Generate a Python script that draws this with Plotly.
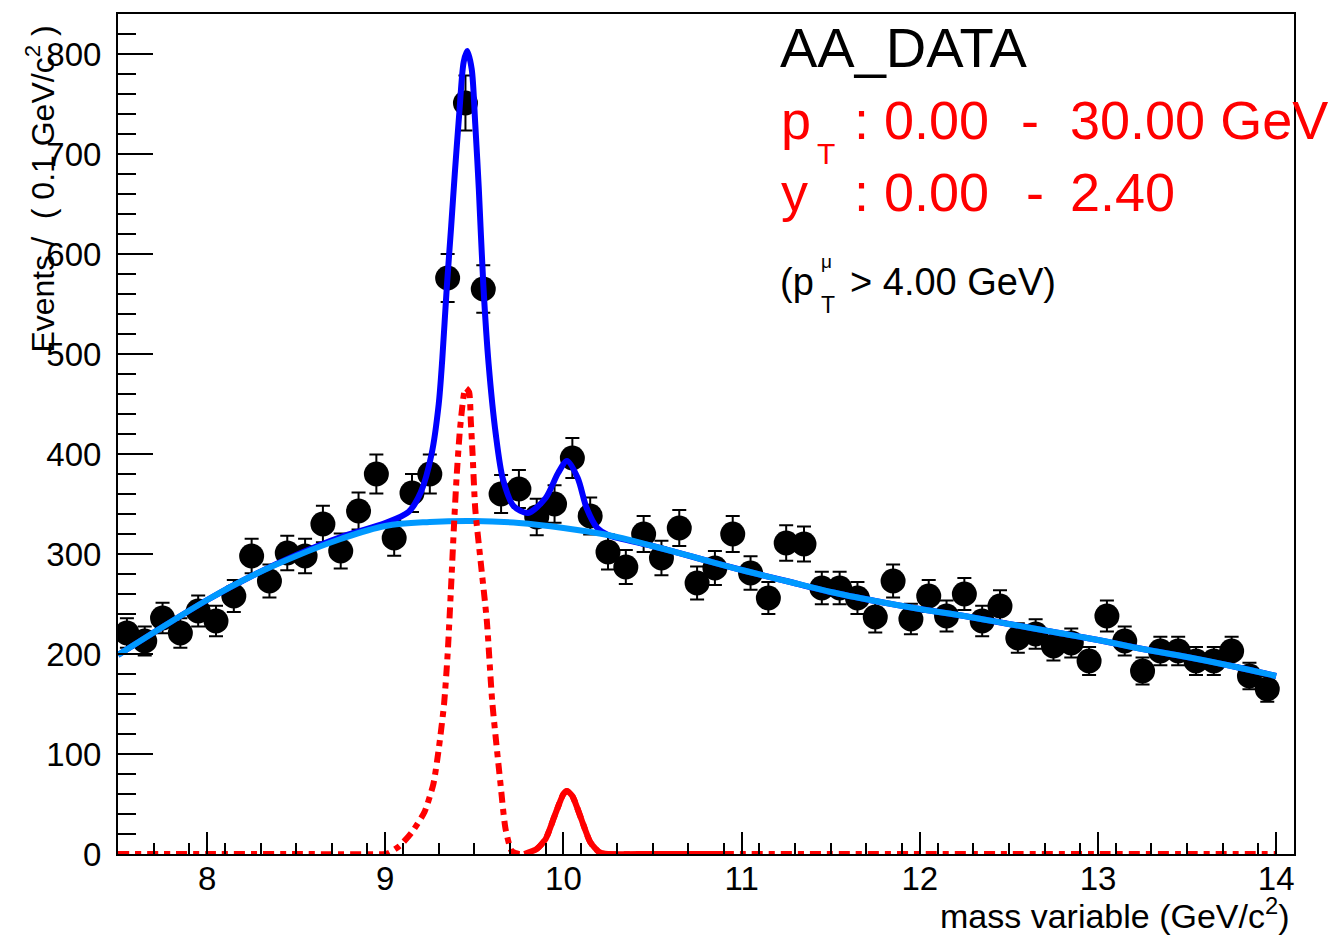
import numpy as np
import plotly.graph_objects as go

# ---- binned data: 0.1 GeV bins from 7.5 to 14.0 ----
mass_bins = [round(7.55 + 0.1 * i, 2) for i in range(65)]
events = [221, 213, 236, 221, 243, 233, 258, 298, 273, 301,
          298, 330, 303, 343, 380, 316, 361, 380, 576, 751,
          565, 360, 365, 337, 350, 396, 338, 302, 287, 320,
          296, 326, 271, 286, 320, 281, 256, 311, 310, 266,
          266, 256, 237, 273, 235, 258, 238, 260, 233, 248,
          216, 220, 208, 211, 193, 238, 213, 183, 203, 203,
          193, 193, 203, 178, 165]
event_errors = [float(np.sqrt(v)) for v in events]

# ---- background shape ----
bkg_mass = [7.5, 7.75, 8.0, 8.25, 8.5, 8.75, 9.0, 9.25, 9.5, 9.75, 10.0,
            10.25, 10.5, 10.75, 11.0, 11.25, 11.5, 11.75, 12.0, 12.25,
            12.5, 12.75, 13.0, 13.25, 13.5, 13.75, 14.0]
bkg_vals = [199, 227, 254, 278, 298, 315, 328, 332, 333, 331, 326,
            319, 308, 296, 284, 273, 262, 253, 245, 238,
            230, 222, 214, 205, 197, 188, 178]

# ---- total fit (signal + background) ----
tot_mass = [7.5, 7.75, 8.0, 8.25, 8.5, 8.75, 9.0, 9.13, 9.2, 9.26, 9.3,
            9.32, 9.345, 9.37, 9.39, 9.415, 9.44, 9.46, 9.485, 9.505,
            9.525, 9.55, 9.58, 9.62, 9.66, 9.72, 9.8, 9.9, 9.97, 10.02,
            10.08, 10.13, 10.19, 10.25, 10.5, 10.75, 11.0, 11.25, 11.5,
            11.75, 12.0, 12.25, 12.5, 12.75, 13.0, 13.25, 13.5, 13.75, 14.0]
tot_vals = [199, 227, 254, 278, 299, 317, 331, 342, 362, 400, 450,
            495, 566, 628, 680, 740, 792, 803, 785, 730,
            665, 570, 490, 420, 375, 348, 341, 356, 381, 393,
            376, 346, 326, 319, 308, 296, 284, 273, 262,
            253, 245, 238, 230, 222, 214, 205, 197, 188, 178]

# ---- signal component (dashed) ----
sig_mass = [7.5, 8.0, 8.5, 9.0, 9.02, 9.08, 9.15, 9.22, 9.27, 9.3, 9.33,
            9.35, 9.37, 9.385, 9.4, 9.42, 9.45, 9.47, 9.48, 9.49, 9.505,
            9.535, 9.57, 9.6, 9.645, 9.675, 9.71, 9.75, 9.8, 9.85, 9.9,
            9.95, 10.0, 10.02, 10.05, 10.1, 10.15, 10.2, 10.25, 10.5,
            11.0, 11.5, 12.0, 12.5, 13.0, 13.5, 14.0]
sig_vals = [0, 0, 0, 0, 1, 8, 22, 42, 70, 105, 150,
            200, 270, 326, 376, 426, 466, 462, 433, 400, 345,
            293, 233, 153, 73, 25, 3, 0, 0, 5, 15,
            38, 60, 63, 58, 35, 12, 2, 0, 0,
            0, 0, 0, 0, 0, 0, 0]

# ---- second-peak component, drawn over its own fit window ----
peak2_mass = [9.78, 9.85, 9.9, 9.95, 10.0, 10.02, 10.05, 10.1, 10.15,
              10.2, 10.25, 10.5, 10.93]
peak2_vals = [0, 5, 15, 38, 60, 63, 58, 35, 12, 2, 0, 0, 0]

x_ticks = [8, 9, 10, 11, 12, 13, 14]
y_ticks = [0, 100, 200, 300, 400, 500, 600, 700, 800]

W, H = 1335, 936
L, R, T, B = 118, 41, 12, 82
PW, PH = W - L - R, H - T - B
FONT = "Liberation Sans, Arial, Helvetica, sans-serif"


def px(xp):
    return (xp - L) / PW


def py(yp):
    return (H - B - yp) / PH


fig = go.Figure()

fig.add_trace(go.Scatter(
    x=mass_bins, y=events, mode="markers",
    marker=dict(symbol="circle", size=25, color="black"),
    error_y=dict(type="data", array=event_errors, color="black",
                 thickness=2, width=7),
    showlegend=False, hoverinfo="x+y"))

fig.add_trace(go.Scatter(
    x=tot_mass, y=tot_vals, mode="lines",
    line=dict(color="#0000ff", width=6, shape="spline", smoothing=0.8),
    showlegend=False))

fig.add_trace(go.Scatter(
    x=bkg_mass, y=bkg_vals, mode="lines",
    line=dict(color="#0099ff", width=6, shape="spline", smoothing=1.0),
    showlegend=False))

fig.add_trace(go.Scatter(
    x=sig_mass, y=sig_vals, mode="lines",
    line=dict(color="#ff0000", width=6, shape="spline", smoothing=0.6,
              dash="11px,6px,6px,6px"),
    showlegend=False))

fig.add_trace(go.Scatter(
    x=peak2_mass, y=peak2_vals, mode="lines",
    line=dict(color="#ff0000", width=6, shape="spline", smoothing=0.6),
    showlegend=False))

axis_common = dict(
    showline=True, linecolor="black", linewidth=2, mirror=True,
    ticks="inside", tickwidth=2, tickcolor="black",
    showgrid=False, zeroline=False,
    tickfont=dict(family=FONT, size=33, color="black"),
)

fig.update_xaxes(
    range=[7.5, 14.1], tickvals=x_ticks, ticktext=[str(t) for t in x_ticks],
    ticklen=22, ticklabelstandoff=-6,
    minor=dict(dtick=0.2, tick0=7.5, ticks="inside", ticklen=11,
               tickwidth=2, tickcolor="black", showgrid=False),
    **axis_common)

fig.update_yaxes(
    range=[0, 840], tickvals=y_ticks, ticktext=[str(t) for t in y_ticks],
    ticklen=35, ticklabelstandoff=8,
    minor=dict(dtick=20, tick0=0, ticks="inside", ticklen=18,
               tickwidth=2, tickcolor="black", showgrid=False),
    **axis_common)

annotations = []


def label(text, x, y, size, color="black", xanchor="left", yanchor="middle",
          angle=0):
    annotations.append(dict(
        text=text, x=px(x), y=py(y), xref="paper", yref="paper",
        xanchor=xanchor, yanchor=yanchor, showarrow=False, textangle=angle,
        font=dict(family=FONT, size=size, color=color)))


# axis titles
label("mass variable (GeV/c<sup>2</sup>)", 1292, 914, 34, xanchor="right")
label("Events /\u00a0 ( 0.1 GeV/c<sup>2</sup> )", 40, 188, 32,
      xanchor="center", angle=-90)

# sample / kinematic range text
label("AA_DATA", 778, 46, 56)
label("p", 779, 118, 54, color="#ff0000")
label("T", 815, 152, 30, color="#ff0000")
label(": 0.00", 852, 118, 54, color="#ff0000")
label("-", 1019, 118, 54, color="#ff0000")
label("30.00 GeV", 1068, 118, 54, color="#ff0000")
label("y", 779, 190, 54, color="#ff0000")
label(": 0.00", 852, 190, 54, color="#ff0000")
label("-", 1024, 190, 54, color="#ff0000")
label("2.40", 1068, 190, 54, color="#ff0000")
label("(p", 778, 281, 38)
label("\u03bc", 819, 260, 19)
label("T", 819, 304, 23)
label("> 4.00 GeV)", 848, 281, 38)

fig.update_layout(
    width=W, height=H,
    margin=dict(l=L, r=R, t=T, b=B, pad=0),
    paper_bgcolor="white", plot_bgcolor="white",
    annotations=annotations,
    showlegend=False,
)

fig.write_html("out.html")
